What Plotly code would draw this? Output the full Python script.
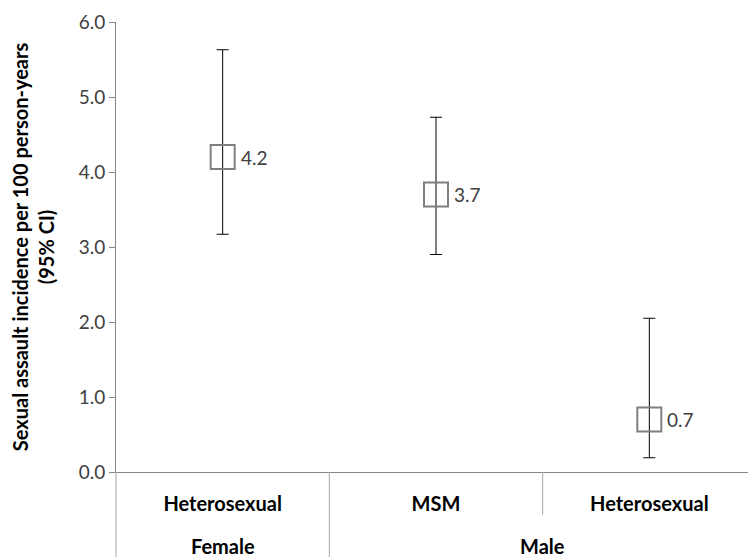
import plotly.graph_objects as go

groups = ["Female", "Male", "Male"]
categories = ["Heterosexual", "MSM", "Heterosexual"]
incidence = [4.2, 3.7, 0.7]
ci_low = [3.17, 2.90, 0.19]
ci_high = [5.63, 4.73, 2.05]
labels = ["4.2", "3.7", "0.7"]
y_ticks = [0, 1, 2, 3, 4, 5, 6]

xs = list(range(len(categories)))
err_plus = [h - v for h, v in zip(ci_high, incidence)]
err_minus = [v - l for v, l in zip(incidence, ci_low)]

font = "Lato, Noto Sans, sans-serif"

fig = go.Figure()
fig.add_trace(go.Scatter(
    x=xs, y=incidence, mode="markers",
    marker=dict(symbol="square-open", size=24, color="#7f7f7f", line=dict(width=2, color="#7f7f7f")),
    error_y=dict(type="data", symmetric=False, array=err_plus, arrayminus=err_minus,
                 color="#000000", thickness=1, width=6),
    showlegend=False, cliponaxis=False,
))

shapes = []
shapes.append(dict(type="line", xref="x", yref="paper", x0=0.5, x1=0.5, y0=0, y1=-0.2,
                   line=dict(color="#a6a6a6", width=1)))
shapes.append(dict(type="line", xref="x", yref="paper", x0=1.5, x1=1.5, y0=0, y1=-0.095,
                   line=dict(color="#a6a6a6", width=1)))
shapes.append(dict(type="line", xref="paper", yref="paper", x0=0, x1=0, y0=0, y1=-0.2,
                   line=dict(color="#a6a6a6", width=1)))

annotations = []
for x, y, t in zip(xs, incidence, labels):
    annotations.append(dict(x=x, y=y, xref="x", yref="y", text=t, showarrow=False,
                            xanchor="left", yanchor="middle", xshift=16,
                            font=dict(family=font, size=19, color="#404040")))
group_pos = {}
for i, g in enumerate(groups):
    group_pos.setdefault(g, []).append(i)
for g, idx in group_pos.items():
    annotations.append(dict(x=sum(idx) / len(idx), y=-0.165, xref="x", yref="paper",
                            xanchor="center", yanchor="middle",
                            text="<b>" + g + "</b>", showarrow=False,
                            font=dict(family=font, size=20, color="#000000")))

fig.update_layout(
    width=756, height=557,
    margin=dict(l=108, r=8, t=14, b=93),
    paper_bgcolor="white", plot_bgcolor="white",
    shapes=shapes, annotations=annotations,
    xaxis=dict(range=[-0.5, 2.5], tickmode="array", tickvals=xs,
               ticktext=["<b>" + c + "</b>" for c in categories],
               tickfont=dict(family=font, size=20, color="#000000"),
               showgrid=False, zeroline=False, showline=True, linecolor="#868686",
               ticks="", ticklabelstandoff=14, automargin=False),
    yaxis=dict(range=[0, 6], tickmode="array", tickvals=y_ticks,
               ticktext=[f"{v:.1f}" for v in y_ticks],
               tickfont=dict(family=font, size=19, color="#404040"),
               showgrid=False, zeroline=False, showline=True, linecolor="#868686",
               ticks="outside", ticklen=6, tickcolor="#868686", automargin=False,
               title=dict(text="<b>Sexual assault incidence per 100 person-years<br>(95% CI)</b>",
                          font=dict(family=font, size=20, color="#000000"), standoff=20)),
)

fig.write_html("out.html")
